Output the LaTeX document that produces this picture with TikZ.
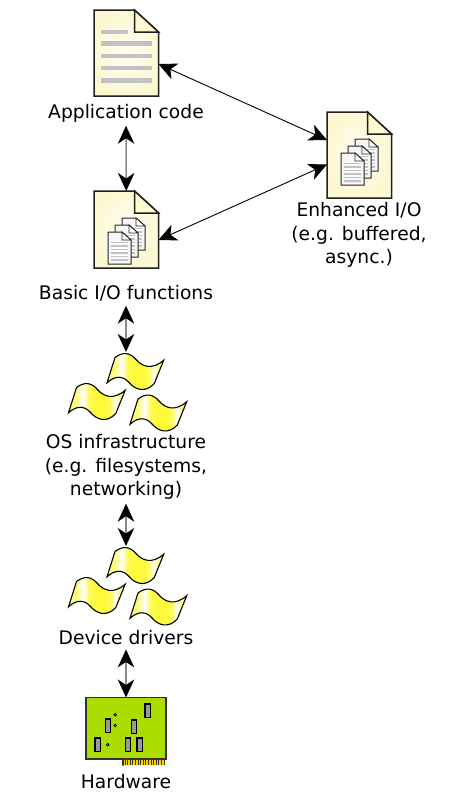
\documentclass[tikz,border=0pt]{standalone}
\usepackage{fontspec}
\setmainfont{DejaVu Sans}
\usetikzlibrary{arrows.meta,calc}
\definecolor{flagy}{HTML}{FFFA3C}
\definecolor{paperin}{HTML}{FFFFF6}
\definecolor{paperout}{HTML}{FCF8D2}
\definecolor{foldc}{HTML}{FFFACF}
\definecolor{barc}{HTML}{C2C2C2}
\definecolor{boardc}{HTML}{ABDD00}
\definecolor{chipc}{HTML}{999999}
\definecolor{linkc}{HTML}{888888}
\pgfdeclarehorizontalshading{flagshade}{100bp}{color(0bp)=(flagy!60!white); color(25bp)=(flagy!60!white); color(31bp)=(flagy!75!white); color(38bp)=(white); color(43bp)=(flagy!85!white); color(48bp)=(flagy); color(58bp)=(flagy); color(63bp)=(flagy!70!white); color(66bp)=(white); color(70bp)=(flagy!60!white); color(75bp)=(flagy!80!white); color(100bp)=(flagy!80!white)}
\tikzset{
  lab/.style={font=\fontsize{18.7}{23.4}\selectfont,align=center,inner sep=0pt,text=black},
  iconbox/.style={inner sep=0pt,outer sep=0pt,minimum width=#1},
  paperline/.style={line width=1.5pt,draw=black!88},
  flagline/.style={line width=1.1pt,draw=black},
  biglink/.style={line width=1.6pt,draw=linkc,{Stealth[length=18pt,width=16.5pt,inset=5.5pt,black]}-{Stealth[length=18pt,width=16.5pt,inset=5.5pt,black]}},
  thinlink/.style={line width=0.9pt,draw=black,{Stealth[length=18pt,width=17pt,inset=5pt,black]}-{Stealth[length=18pt,width=17pt,inset=5pt,black]}},
  chip/.style={fill=chipc,draw=black,line width=1.1pt},
  boardhole/.style={fill=white,draw=black,line width=0.8pt},
  bar/.style={draw=barc,line width=4.3pt},
}
\newcommand{\paperdoc}[2]{% node name, height
  \begin{scope}[shift={(#1.north west)}]
    \shadedraw[paperline,inner color=paperin,outer color=paperout]
      (0,0) -- (40.5,0) -- (64.5,22) -- (64.5,#2) -- (0,#2) -- cycle;
    \filldraw[paperline,fill=foldc] (40.5,0) -- (40.5,22) -- (64.5,22) -- cycle;
  \end{scope}}
\newcommand{\smallpage}[2]{%
  \begin{scope}[shift={(#1,#2)}]
    \shadedraw[line width=1pt,draw=black!85,inner color=white,outer color=black!4]
      (0,0) -- (14,0) -- (23,8) -- (23,32) -- (0,32) -- cycle;
    \filldraw[line width=0.9pt,draw=black!85,fill=white] (14,0) -- (14,8) -- (23,8) -- cycle;
    \foreach \yy in {10.5,14,17.5,21,24.5,28}
      \draw[draw=barc,line width=1.1pt] (3,\yy) -- (20,\yy);
  \end{scope}}
\newcommand{\pagestack}[1]{%
  \begin{scope}[shift={(#1.north west)}]
    \smallpage{28}{27}\smallpage{21}{34}\smallpage{14}{41}
  \end{scope}}
\newcommand{\wavy}[2]{%
  \begin{scope}[shift={(#1,#2)}]
    \shadedraw[flagline,shading=flagshade]
      (0,0) .. controls (8,-6) and (15,-5) .. (21,2)
      .. controls (27,9) and (37,13) .. (48.7,2.7)
      -- (39.3,26)
      .. controls (30,36) and (20,32) .. (14,25)
      .. controls (8,18) and (0,18) .. (-8,25.3)
      -- cycle;
  \end{scope}}
\newcommand{\flaggroup}[1]{%
  \begin{scope}[shift={(#1.north west)}]
    \wavy{46.5}{5.5}\wavy{8}{35.5}\wavy{69.5}{47}
  \end{scope}}
\begin{document}
\begin{tikzpicture}[x=1pt,y=-1pt]
\useasboundingbox (0,0) rectangle (452,803);
% icon placeholders
\node[iconbox=64.5pt,minimum height=86pt] (app) at (126.25,53) {};
\node[iconbox=64.5pt,minimum height=77pt] (basic) at (126.25,229.5) {};
\node[iconbox=64.5pt,minimum height=86pt] (enh) at (359.25,155) {};
\node[iconbox=115pt,minimum height=70pt] (os) at (126,387) {};
\node[iconbox=115pt,minimum height=70pt] (drv) at (126,581) {};
\node[iconbox=80pt,minimum height=68pt] (hw) at (126,731.5) {};
% labels
\node[lab] (applab) at (126,113) {Application code};
\node[lab] (baslab) at (126,293.5) {Basic I/O functions};
\node[lab] (enhlab) at (359,235) {Enhanced I/O\\(e.g. buffered,\\async.)};
\node[lab] (oslab) at (126,467) {OS infrastructure\\(e.g. filesystems,\\networking)};
\node[lab] (drvlab) at (126,638) {Device drivers};
\node[lab] (hwlab) at (126,782) {Hardware};
% documents
\paperdoc{app}{86}
\begin{scope}[shift={(app.north west)}]
  \draw[bar] (7,22) -- (34,22);
  \foreach \yy in {33.5,46,58,70.5} \draw[bar] (7,\yy) -- (58,\yy);
\end{scope}
\paperdoc{basic}{77}\pagestack{basic}
\paperdoc{enh}{86}\pagestack{enh}
% flags
\flaggroup{os}
\flaggroup{drv}
% hardware board
\begin{scope}[shift={(hw.north west)}]
  \fill[yellow!70!orange] (37,61) rectangle (79,67.5);
  \foreach \xx in {39,41.6,...,79} \draw[line width=1pt,black!80] (\xx,61) -- (\xx,67.5);
  \filldraw[fill=boardc,draw=black!80,line width=1.6pt]
    (0,0) -- (80,0) -- (80,61.5) -- (37,61.5) -- (37,68) -- (37,61.5) -- (0,61.5) -- cycle;
  \draw[chip] (59,6.5) rectangle (64.5,20);
  \draw[chip] (19.3,21.5) rectangle (24.7,35);
  \draw[chip] (45.2,22.5) rectangle (50.7,36);
  \draw[chip] (9,40.5) rectangle (14.7,54);
  \draw[chip] (39.3,40.5) rectangle (44.7,54);
  \draw[chip] (51,40.5) rectangle (56.7,54);
  \draw[boardhole] (29.3,17.3) circle (1.3);
  \draw[boardhole] (29.3,28) circle (1.3);
  \draw[boardhole] (21.7,47.3) circle (1.3);
\end{scope}
% connectors
\draw[biglink] ([yshift=-3.5pt]applab.south) -- (basic.north);
\draw[biglink] ([yshift=-4pt]baslab.south) -- (os.north);
\draw[biglink] ([yshift=-4pt]oslab.south) -- (drv.north);
\draw[biglink] ([yshift=-4pt]drvlab.south) -- (hw.north);
\draw[thinlink] ([yshift=-11pt]app.east) -- ([yshift=15pt]enh.west);
\draw[thinlink] ([yshift=-10.5pt]basic.east) -- ([yshift=-9.5pt]enh.west);
\end{tikzpicture}
\end{document}
